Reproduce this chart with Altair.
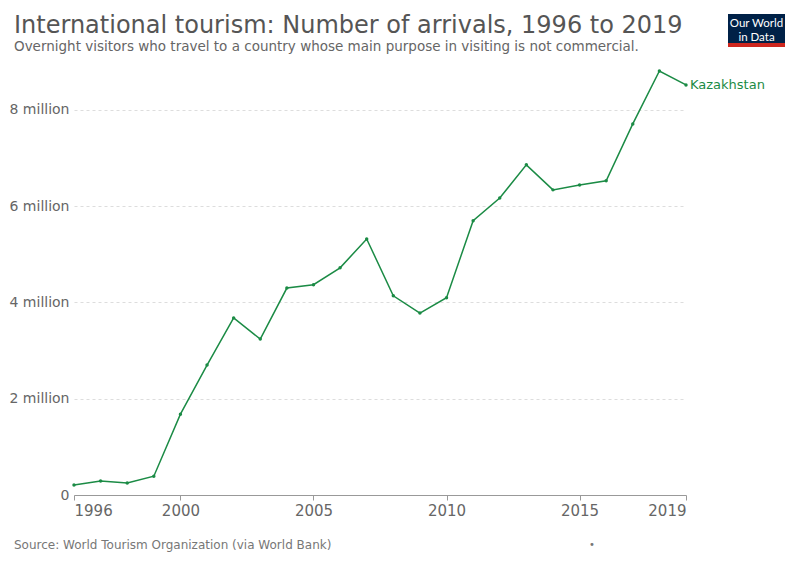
import altair as alt
import pandas as pd

years = list(range(1996, 2020))
arrivals = [0.21, 0.29, 0.25, 0.39, 1.68, 2.70, 3.68, 3.24, 4.30, 4.37, 4.72, 5.32,
            4.14, 3.78, 4.10, 5.70, 6.17, 6.86, 6.34, 6.44, 6.53, 7.71, 8.81, 8.52]
arrivals = [v * 1e6 for v in arrivals]
country = "Kazakhstan"
x_ticks = [1996, 2000, 2005, 2010, 2015, 2019]
y_ticks = [0, 2e6, 4e6, 6e6, 8e6]

df = pd.DataFrame({"year": years, "value": arrivals, "country": country})
GREEN = "#1b8b45"
FONT = "DejaVu Sans"

xs = alt.X("year:Q", scale=alt.Scale(domain=[1996, 2019], nice=False, zero=False),
           axis=alt.Axis(values=x_ticks, format="d", title=None, labelFlush=True,
                         labelFontSize=15, labelColor="#666", labelFont=FONT,
                         domainColor="#999", tickColor="#999", tickSize=5,
                         labelPadding=3, grid=False))
ys = alt.Y("value:Q", scale=alt.Scale(domain=[0, 8.81e6], nice=False),
           axis=alt.Axis(values=y_ticks, title=None,
                         labelExpr="datum.value == 0 ? '0' : (datum.value/1e6) + ' million'",
                         labelFontSize=14, labelColor="#666", labelFont=FONT,
                         domain=False, ticks=False, labelPadding=5,
                         gridColor="#ddd", gridDash=[3, 3]))

base = alt.Chart(df)
line = base.mark_line(color=GREEN, strokeWidth=1.5).encode(x=xs, y=ys)
pts = base.mark_point(color=GREEN, filled=True, size=12, opacity=1).encode(x=xs, y=ys)
label = base.transform_filter(alt.datum.year == 2019).mark_text(
    align="left", baseline="middle", dx=4, fontSize=13, font=FONT, color=GREEN
).encode(x=xs, y=ys, text="country:N")

def txt(s, x, y, size, color, weight="normal", align="left", font=FONT):
    return alt.Chart(pd.DataFrame({"t": [s]})).mark_text(
        align=align, baseline="alphabetic", fontSize=size, font=font, color=color,
        fontWeight=weight
    ).encode(x=alt.value(x), y=alt.value(y), text="t:N")

OX, OY = 74, 71  # plot origin in page coords
title = txt("International tourism: Number of arrivals, 1996 to 2019", 14 - OX, 33 - OY, 24, "#555")
subtitle = txt("Overnight visitors who travel to a country whose main purpose in visiting is not commercial.",
               14 - OX, 51 - OY, 13.5, "#666")
source = txt("Source: World Tourism Organization (via World Bank)", 14 - OX, 549 - OY, 12, "#777")
dot = txt("•", 592 - OX, 548 - OY, 10, "#777", align="center")

logo_bg = alt.Chart(pd.DataFrame({"a": [1]})).mark_rect(color="#002147").encode(
    x=alt.value(728 - OX), x2=alt.value(785 - OX), y=alt.value(14 - OY), y2=alt.value(44 - OY))
logo_red = alt.Chart(pd.DataFrame({"a": [1]})).mark_rect(color="#ce261e").encode(
    x=alt.value(728 - OX), x2=alt.value(785 - OX), y=alt.value(43 - OY), y2=alt.value(47 - OY))
logo1 = txt("Our World", 756.5 - OX, 27 - OY, 11.5, "white", align="center", font="Lato")
logo2 = txt("in Data", 756.5 - OX, 40.5 - OY, 11.5, "white", align="center", font="Lato")

chart = alt.layer(line, pts, label, title, subtitle, source, dot,
                  logo_bg, logo_red, logo1, logo2).properties(
    width=612, height=424,
    autosize=alt.AutoSizeParams(type="none"),
    padding={"left": OX - 8, "top": OY - 8, "right": 784 - (OX - 8) - 612,
             "bottom": 549 - (OY - 8) - 424},
).configure(background="white").configure_view(stroke=None, strokeWidth=0)

chart.save("out.html", embed_options={"renderer": "svg", "actions": False})
